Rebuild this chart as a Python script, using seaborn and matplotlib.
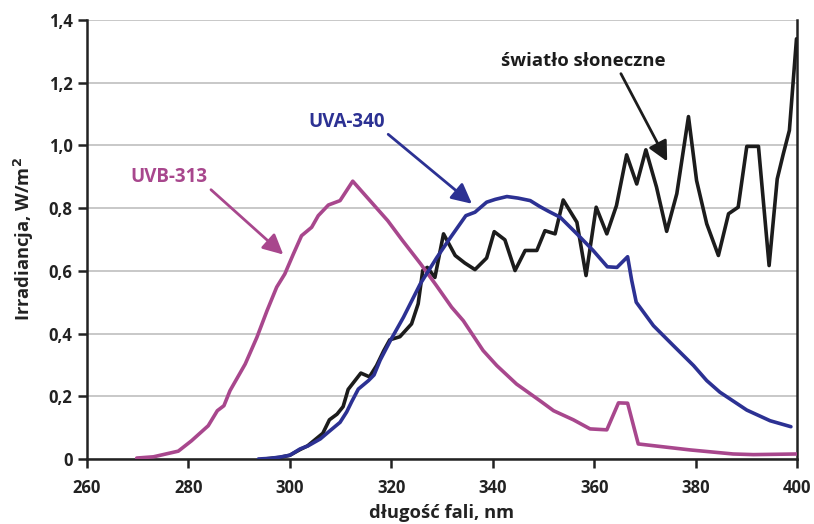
import matplotlib
matplotlib.use("Agg")
import matplotlib.pyplot as plt
import pandas as pd
import seaborn as sns

# Spectral irradiance (W/m^2 per nm) versus wavelength (nm)
sun_nm = [295, 298, 300, 302, 303.5, 305, 306.5, 307.8, 309.3, 310.5, 311.5, 314.0,
          315.7, 317.1, 318.5, 319.7, 321.7, 324.0, 325.3, 326.2, 327.1, 328.6, 330.3,
          332.6, 334.5, 336.5, 338.8, 340.3, 342.4, 344.4, 346.4, 348.7, 350.3, 352.3,
          353.9, 356.6, 358.4, 360.4, 362.5, 364.4, 366.4, 368.4, 370.2, 372.3, 374.3,
          376.3, 378.6, 380.2, 382.2, 384.5, 386.5, 388.4, 390.1, 392.4, 394.5, 396.1,
          397.3, 398.5, 399.9]
sun_val = [0.0, 0.005, 0.012, 0.03, 0.042, 0.062, 0.082, 0.125, 0.143, 0.167, 0.222, 0.274,
           0.262, 0.298, 0.345, 0.380, 0.390, 0.431, 0.495, 0.601, 0.611, 0.579, 0.718,
           0.649, 0.625, 0.604, 0.641, 0.725, 0.699, 0.601, 0.665, 0.665, 0.728, 0.718,
           0.826, 0.755, 0.585, 0.803, 0.718, 0.808, 0.970, 0.877, 0.986, 0.867, 0.726,
           0.846, 1.092, 0.888, 0.750, 0.649, 0.782, 0.803, 0.997, 0.997, 0.617, 0.893,
           0.973, 1.048, 1.340]

uva_nm = [293.8, 296, 298, 300, 302, 303.6, 306, 307.9, 309.9, 311.2, 312.2, 313.5, 315.5,
          316.6, 317.8, 319.8, 322.4, 325.7, 329.0, 331.7, 334.7, 336.5, 338.8, 340.5,
          342.8, 345.0, 347.4, 349.3, 351.0, 353.3, 356.6, 359.8, 362.6, 364.5, 366.6,
          367.4, 368.3, 371.7, 375.6, 379.6, 382.2, 384.8, 390.1, 394.7, 398.8]
uva_val = [0.0, 0.002, 0.006, 0.012, 0.032, 0.042, 0.064, 0.090, 0.117, 0.150, 0.183, 0.223,
           0.250, 0.268, 0.315, 0.377, 0.452, 0.558, 0.643, 0.707, 0.776, 0.787, 0.819,
           0.828, 0.837, 0.832, 0.824, 0.805, 0.790, 0.771, 0.718, 0.665, 0.613, 0.611,
           0.645, 0.570, 0.500, 0.425, 0.362, 0.298, 0.250, 0.213, 0.156, 0.122, 0.103]

uvb_nm = [269.8, 273.1, 278.0, 280.6, 283.9, 285.7, 287.0, 288.2, 291.2, 293.5, 295.5,
          297.4, 299.0, 300.7, 302.3, 304.3, 305.6, 307.6, 309.9, 312.4, 319.3, 322.2,
          325.8, 328.9, 331.9, 334.2, 338.1, 340.8, 344.7, 349.3, 352.0, 355.9, 359.2,
          362.5, 364.8, 366.6, 368.7, 378.9, 387.4, 391.4, 400.0]
uvb_val = [0.003, 0.007, 0.025, 0.058, 0.106, 0.154, 0.170, 0.218, 0.303, 0.388, 0.473,
           0.548, 0.590, 0.654, 0.712, 0.739, 0.776, 0.810, 0.824, 0.886, 0.760, 0.697,
           0.622, 0.553, 0.484, 0.441, 0.346, 0.298, 0.239, 0.186, 0.154, 0.125, 0.096,
           0.093, 0.179, 0.178, 0.048, 0.029, 0.016, 0.014, 0.016]

x_ticks = [260, 280, 300, 320, 340, 360, 380, 400]
y_ticks = [0, 0.2, 0.4, 0.6, 0.8, 1.0, 1.2, 1.4]
y_tick_labels = ["0", "0,2", "0,4", "0,6", "0,8", "1,0", "1,2", "1,4"]

SUN = "#1c1c1c"
UVA = "#2c3193"
UVB = "#a8478d"

sns.set_theme(style="white")
plt.rcParams["font.family"] = ["Open Sans", "DejaVu Sans"]
plt.rcParams["font.weight"] = "bold"

fig = plt.figure(figsize=(8.14, 5.24), dpi=100)
ax = fig.add_axes([87 / 814, 1 - 459 / 524, 710 / 814, 439 / 524])

sun = pd.DataFrame({"nm": sun_nm, "irr": sun_val})
uva = pd.DataFrame({"nm": uva_nm, "irr": uva_val})
uvb = pd.DataFrame({"nm": uvb_nm, "irr": uvb_val})

lw = 2.6
sns.lineplot(data=sun, x="nm", y="irr", ax=ax, color=SUN, lw=lw, sort=False,
             estimator=None, zorder=3)
sns.lineplot(data=uvb, x="nm", y="irr", ax=ax, color=UVB, lw=lw, sort=False,
             estimator=None, zorder=4)
sns.lineplot(data=uva, x="nm", y="irr", ax=ax, color=UVA, lw=lw, sort=False,
             estimator=None, zorder=5)

ax.set_xlim(260, 400)
ax.set_ylim(0, 1.4)
ax.set_xticks(x_ticks)
ax.set_yticks(y_ticks)
ax.set_yticklabels(y_tick_labels)
ax.yaxis.grid(True, color="#c4c4c4", lw=1.3)
ax.set_axisbelow(True)

for side in ("left", "bottom", "right"):
    ax.spines[side].set_visible(True)
    ax.spines[side].set_color("#222222")
    ax.spines[side].set_linewidth(1.8)
ax.spines["top"].set_visible(False)

ax.tick_params(axis="both", which="major", direction="out", length=6.5, width=1.8,
               color="#222222", labelsize=12, labelcolor="#222222", pad=4)
ax.tick_params(axis="y", left=True, right=False)
ax.tick_params(axis="x", bottom=True, pad=8)

ax.set_xlabel("długość fali, nm", fontsize=13.2, fontweight="bold", color="#222222",
              labelpad=5)
ax.set_ylabel("Irradiancja, W/m$^2$", fontsize=13.2, fontweight="bold", color="#222222",
              labelpad=9)

arrow_kw = dict(arrowstyle="-|>,head_length=0.9,head_width=0.45", lw=2.0,
                shrinkA=0, shrinkB=0)
ax.annotate("UVB-313", xy=(298.7, 0.652), xytext=(276.2, 0.900), color=UVB,
            fontsize=13.5, fontweight="bold", ha="center", va="center",
            arrowprops=dict(color=UVB, **arrow_kw,
                            relpos=(1.0, 0.0)))
ax.annotate("UVA-340", xy=(335.9, 0.814), xytext=(311.2, 1.076), color=UVA,
            fontsize=13.5, fontweight="bold", ha="center", va="center",
            arrowprops=dict(color=UVA, **arrow_kw, relpos=(1.0, 0.0)))
ax.annotate("światło słoneczne", xy=(374.4, 0.949), xytext=(357.8, 1.268), color=SUN,
            fontsize=13.3, fontweight="bold", ha="center", va="center",
            arrowprops=dict(color=SUN, **arrow_kw, relpos=(0.72, 0.0)))

fig.savefig("out.png", dpi=100)
